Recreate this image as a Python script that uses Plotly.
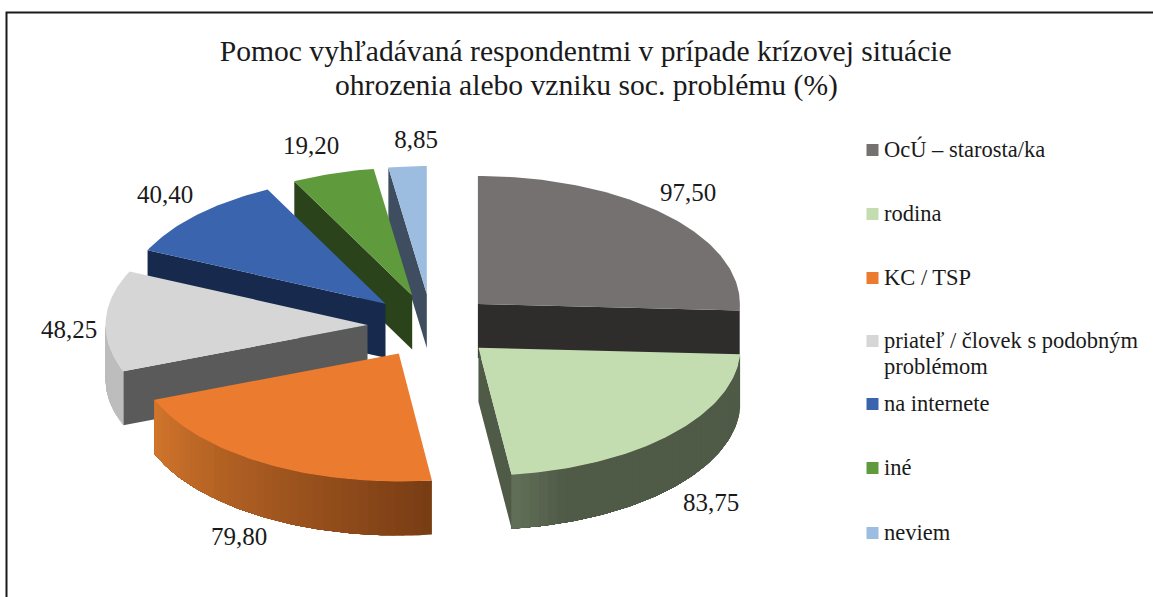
import math
import plotly.graph_objects as go

# ---- data ----
CATEGORIES = ["OcÚ – starosta/ka", "rodina", "KC / TSP", "priateľ / človek s podobným<br>problémom",
              "na internete", "iné", "neviem"]
VALUES = [97.50, 83.75, 79.80, 48.25, 40.40, 19.20, 8.85]
TITLE_LINES = ["Pomoc vyhľadávaná respondentmi v prípade krízovej situácie",
               "ohrozenia alebo vzniku soc. problému (%)"]

# ---- style ----
TOP = ["#767171", "#c3ddb0", "#ea7b2f", "#d6d6d6", "#3a64ad", "#5f9a3d", "#9dbde0"]
CUT = ["#2f2c2c", "#4f5a47", "#783c14", "#5a5a5a", "#172a4d", "#2a431a", "#3e4e60"]
WALL_A = ["#2f2c2c", "#4f5a47", "#783c14", "#bdbdbd", "#172a4d", "#2a431a", "#3e4e60"]  # at slice start
WALL_B = ["#2f2c2c", "#4f5a47", "#d2752c", "#bdbdbd", "#172a4d", "#2a431a", "#3e4e60"]  # at slice end
WALL_END_TINT = {1: "#627058"}  # lighter band just before the end of a wall
DRAW_ORDER = [6, 5, 4, 0, 3, 1, 2]
CX, CY, RX, RY, DEPTH, EX, EY = 431.5, 326, 262, 128, 54, 64, 32
LABEL_X = [688, 711, 239, 69, 165, 311, 416]
LABEL_Y = [195, 505, 539, 332, 197, 148, 142]
LEGEND_Y = [149, 213, 277, 340, 403, 467, 532]
FONT = "Liberation Serif"


def hex2rgb(h):
    return tuple(int(h[i:i + 2], 16) for i in (1, 3, 5))


def mix(a, b, t):
    ra, rb = hex2rgb(a), hex2rgb(b)
    return "rgb(%d,%d,%d)" % tuple(round(x + (y - x) * t) for x, y in zip(ra, rb))


fig = go.Figure()


def poly(xs, ys, color, name):
    fig.add_trace(go.Scatter(x=xs + xs[:1], y=ys + ys[:1], mode="lines", fill="toself", fillcolor=color,
                             line=dict(color=color, width=0), hoverinfo="skip", showlegend=False, name=name))


total = sum(VALUES)
starts, a = [], 0.0
for v in VALUES:
    starts.append(a)
    a += v / total * 360


def pt(ax, ay, deg):
    r = math.radians(deg)
    return ax + RX * math.sin(r), ay - RY * math.cos(r)


for i in DRAW_ORDER:
    s = starts[i]
    e = s + VALUES[i] / total * 360
    mid = math.radians((s + e) / 2)
    ax, ay = CX + EX * math.sin(mid), CY - EY * math.cos(mid)
    name = CATEGORIES[i]
    # cut faces that look towards the viewer
    for deg, visible in ((s, math.sin(math.radians(s)) < 0), (e, math.sin(math.radians(e)) > 0)):
        if visible:
            px, py = pt(ax, ay, deg)
            poly([ax, px, px, ax], [ay, py, py + DEPTH, ay + DEPTH], CUT[i], name)
    # outer wall, front half only: overlapping shaded strips, each painted up to the far end
    lo, hi = max(s, 90), min(e, 270)
    if hi > lo:
        n = max(1, int((hi - lo) / 2))
        for k in range(n):
            d0 = lo + (hi - lo) * k / n
            t = (k + .5) / n
            col = mix(WALL_A[i], WALL_B[i], t)
            if i in WALL_END_TINT and t > 0.85:
                col = mix(WALL_A[i], WALL_END_TINT[i], (t - 0.85) / 0.15)
            m = max(2, int(hi - d0))
            arc = [pt(ax, ay, d0 + (hi - d0) * j / m) for j in range(m + 1)]
            xs = [p[0] for p in arc]
            ys = [p[1] for p in arc]
            poly(xs + xs[::-1], ys + [y + DEPTH for y in ys[::-1]], col, name)
    # top face
    n = max(4, int(e - s))
    arc = [pt(ax, ay, s + (e - s) * k / n) for k in range(n + 1)]
    poly([ax] + [p[0] for p in arc], [ay] + [p[1] for p in arc], TOP[i], name)

# data labels
fig.add_trace(go.Scatter(x=LABEL_X, y=LABEL_Y, mode="text",
                         text=[f"{v:.2f}".replace(".", ",") for v in VALUES],
                         textposition="middle center", textfont=dict(family=FONT, size=25, color="#1a1a1a"),
                         hoverinfo="skip", showlegend=False))

# legend
for name, color, ly in zip(CATEGORIES, TOP, LEGEND_Y):
    fig.add_trace(go.Scatter(x=[872.5], y=[ly + 1], mode="markers", marker=dict(symbol="square", size=12, color=color),
                             hoverinfo="skip", showlegend=False, name=name))
    for j, part in enumerate(name.split("<br>")):
        fig.add_annotation(x=883, y=ly + j * 26, xref="x", yref="y", text=part, showarrow=False, xanchor="left",
                           yanchor="middle", align="left", font=dict(family=FONT, size=22.5, color="#1a1a1a"),
                           borderpad=0)

# second title line
fig.add_annotation(x=586, y=85, xref="x", yref="y", text=TITLE_LINES[1], showarrow=False, xanchor="center",
                   yanchor="middle", font=dict(family=FONT, size=29.6, color="#1a1a1a"), borderpad=0)

# frame
fig.add_shape(type="path", path="M 6.5 597 L 6.5 12.5 L 1153 12.5", xref="x", yref="y",
              line=dict(color="#1a1a1a", width=2))

fig.update_layout(
    width=1153, height=597, margin=dict(l=0, r=0, t=0, b=0),
    paper_bgcolor="white", plot_bgcolor="white", showlegend=False,
    title=dict(text=TITLE_LINES[0], x=0.508, xanchor="center", y=0.9146, yanchor="middle",
               font=dict(family=FONT, size=29.6, color="#1a1a1a")),
    xaxis=dict(range=[0, 1153], visible=False, fixedrange=True),
    yaxis=dict(range=[597, 0], visible=False, fixedrange=True),
)
fig.write_html("out.html", config={"displayModeBar": False},
               post_script="document.body.style.margin='0';document.documentElement.style.overflow='hidden';")
